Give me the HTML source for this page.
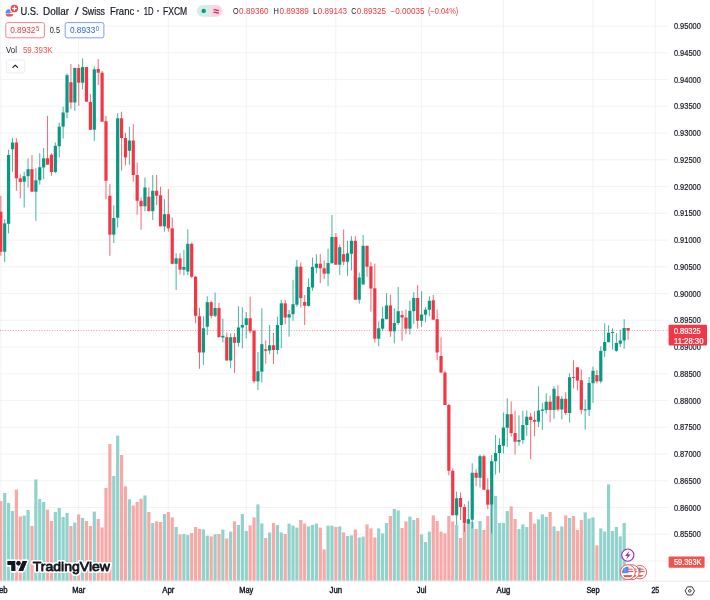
<!DOCTYPE html>
<html lang="en">
<head>
<meta charset="utf-8">
<title>USDCHF chart</title>
<style>
html,body{margin:0;padding:0;background:#ffffff;}
body{width:710px;height:600px;overflow:hidden;position:relative;font-family:"Liberation Sans",sans-serif;}
svg text{font-family:"Liberation Sans",sans-serif;}
</style>
</head>
<body>
<svg width="710" height="600" viewBox="0 0 710 600" style="position:absolute;left:0;top:0;display:block;filter:blur(0.3px)">
<rect width="710" height="600" fill="#ffffff"/>
<g stroke="#efeff0" stroke-width="0.8" fill="none">
<line x1="0" y1="26.10" x2="668.4" y2="26.10"/>
<line x1="0" y1="52.84" x2="668.4" y2="52.84"/>
<line x1="0" y1="79.59" x2="668.4" y2="79.59"/>
<line x1="0" y1="106.34" x2="668.4" y2="106.34"/>
<line x1="0" y1="133.08" x2="668.4" y2="133.08"/>
<line x1="0" y1="159.82" x2="668.4" y2="159.82"/>
<line x1="0" y1="186.57" x2="668.4" y2="186.57"/>
<line x1="0" y1="213.31" x2="668.4" y2="213.31"/>
<line x1="0" y1="240.06" x2="668.4" y2="240.06"/>
<line x1="0" y1="266.81" x2="668.4" y2="266.81"/>
<line x1="0" y1="293.55" x2="668.4" y2="293.55"/>
<line x1="0" y1="320.30" x2="668.4" y2="320.30"/>
<line x1="0" y1="347.04" x2="668.4" y2="347.04"/>
<line x1="0" y1="373.79" x2="668.4" y2="373.79"/>
<line x1="0" y1="400.53" x2="668.4" y2="400.53"/>
<line x1="0" y1="427.28" x2="668.4" y2="427.28"/>
<line x1="0" y1="454.02" x2="668.4" y2="454.02"/>
<line x1="0" y1="480.77" x2="668.4" y2="480.77"/>
<line x1="0" y1="507.51" x2="668.4" y2="507.51"/>
<line x1="0" y1="534.25" x2="668.4" y2="534.25"/>
<line x1="0" y1="561.00" x2="668.4" y2="561.00"/>
<line x1="0.80" y1="0" x2="0.80" y2="580.8"/>
<line x1="78.72" y1="0" x2="78.72" y2="580.8"/>
<line x1="168.33" y1="0" x2="168.33" y2="580.8"/>
<line x1="246.25" y1="0" x2="246.25" y2="580.8"/>
<line x1="335.86" y1="0" x2="335.86" y2="580.8"/>
<line x1="421.57" y1="0" x2="421.57" y2="580.8"/>
<line x1="503.38" y1="0" x2="503.38" y2="580.8"/>
<line x1="592.99" y1="0" x2="592.99" y2="580.8"/>
<line x1="655.33" y1="0" x2="655.33" y2="580.8"/>
</g>
<g shape-rendering="geometricPrecision">
<rect x="-0.80" y="501.0" width="3.2" height="79.8" fill="#f7a9a7"/>
<rect x="3.10" y="493.0" width="3.2" height="87.8" fill="#92d2cc"/>
<rect x="6.99" y="503.0" width="3.2" height="77.8" fill="#92d2cc"/>
<rect x="10.89" y="511.0" width="3.2" height="69.8" fill="#92d2cc"/>
<rect x="14.78" y="489.6" width="3.2" height="91.2" fill="#f7a9a7"/>
<rect x="18.68" y="516.4" width="3.2" height="64.4" fill="#f7a9a7"/>
<rect x="22.58" y="515.6" width="3.2" height="65.2" fill="#92d2cc"/>
<rect x="26.47" y="510.0" width="3.2" height="70.8" fill="#92d2cc"/>
<rect x="30.37" y="526.0" width="3.2" height="54.8" fill="#f7a9a7"/>
<rect x="34.26" y="479.4" width="3.2" height="101.4" fill="#92d2cc"/>
<rect x="38.16" y="499.0" width="3.2" height="81.8" fill="#92d2cc"/>
<rect x="42.06" y="502.0" width="3.2" height="78.8" fill="#92d2cc"/>
<rect x="45.95" y="509.6" width="3.2" height="71.2" fill="#f7a9a7"/>
<rect x="49.85" y="521.0" width="3.2" height="59.8" fill="#f7a9a7"/>
<rect x="53.74" y="512.0" width="3.2" height="68.8" fill="#92d2cc"/>
<rect x="57.64" y="508.0" width="3.2" height="72.8" fill="#92d2cc"/>
<rect x="61.54" y="517.0" width="3.2" height="63.8" fill="#92d2cc"/>
<rect x="65.43" y="513.0" width="3.2" height="67.8" fill="#92d2cc"/>
<rect x="69.33" y="526.0" width="3.2" height="54.8" fill="#f7a9a7"/>
<rect x="73.22" y="522.6" width="3.2" height="58.2" fill="#92d2cc"/>
<rect x="77.12" y="514.4" width="3.2" height="66.4" fill="#f7a9a7"/>
<rect x="81.02" y="518.0" width="3.2" height="62.8" fill="#92d2cc"/>
<rect x="84.91" y="521.0" width="3.2" height="59.8" fill="#f7a9a7"/>
<rect x="88.81" y="526.0" width="3.2" height="54.8" fill="#f7a9a7"/>
<rect x="92.70" y="511.6" width="3.2" height="69.2" fill="#92d2cc"/>
<rect x="96.60" y="519.0" width="3.2" height="61.8" fill="#f7a9a7"/>
<rect x="100.50" y="527.4" width="3.2" height="53.4" fill="#f7a9a7"/>
<rect x="104.39" y="488.0" width="3.2" height="92.8" fill="#f7a9a7"/>
<rect x="108.29" y="444.0" width="3.2" height="136.8" fill="#f7a9a7"/>
<rect x="112.18" y="476.0" width="3.2" height="104.8" fill="#92d2cc"/>
<rect x="116.08" y="435.6" width="3.2" height="145.2" fill="#92d2cc"/>
<rect x="119.98" y="455.0" width="3.2" height="125.8" fill="#f7a9a7"/>
<rect x="123.87" y="486.4" width="3.2" height="94.4" fill="#f7a9a7"/>
<rect x="127.77" y="499.2" width="3.2" height="81.6" fill="#92d2cc"/>
<rect x="131.66" y="505.5" width="3.2" height="75.3" fill="#f7a9a7"/>
<rect x="135.56" y="502.0" width="3.2" height="78.8" fill="#f7a9a7"/>
<rect x="139.46" y="498.7" width="3.2" height="82.1" fill="#f7a9a7"/>
<rect x="143.35" y="495.4" width="3.2" height="85.4" fill="#92d2cc"/>
<rect x="147.25" y="512.0" width="3.2" height="68.8" fill="#f7a9a7"/>
<rect x="151.14" y="523.0" width="3.2" height="57.8" fill="#92d2cc"/>
<rect x="155.04" y="521.4" width="3.2" height="59.4" fill="#f7a9a7"/>
<rect x="158.94" y="522.0" width="3.2" height="58.8" fill="#f7a9a7"/>
<rect x="162.83" y="514.0" width="3.2" height="66.8" fill="#92d2cc"/>
<rect x="166.73" y="512.0" width="3.2" height="68.8" fill="#f7a9a7"/>
<rect x="170.62" y="517.4" width="3.2" height="63.4" fill="#f7a9a7"/>
<rect x="174.52" y="527.0" width="3.2" height="53.8" fill="#92d2cc"/>
<rect x="178.42" y="534.4" width="3.2" height="46.4" fill="#f7a9a7"/>
<rect x="182.31" y="534.0" width="3.2" height="46.8" fill="#92d2cc"/>
<rect x="186.21" y="535.0" width="3.2" height="45.8" fill="#92d2cc"/>
<rect x="190.10" y="533.0" width="3.2" height="47.8" fill="#f7a9a7"/>
<rect x="194.00" y="527.0" width="3.2" height="53.8" fill="#f7a9a7"/>
<rect x="197.90" y="529.0" width="3.2" height="51.8" fill="#f7a9a7"/>
<rect x="201.79" y="529.4" width="3.2" height="51.4" fill="#92d2cc"/>
<rect x="205.69" y="535.6" width="3.2" height="45.2" fill="#92d2cc"/>
<rect x="209.58" y="536.4" width="3.2" height="44.4" fill="#f7a9a7"/>
<rect x="213.48" y="534.4" width="3.2" height="46.4" fill="#92d2cc"/>
<rect x="217.38" y="534.0" width="3.2" height="46.8" fill="#f7a9a7"/>
<rect x="221.27" y="529.6" width="3.2" height="51.2" fill="#92d2cc"/>
<rect x="225.17" y="538.4" width="3.2" height="42.4" fill="#f7a9a7"/>
<rect x="229.06" y="531.6" width="3.2" height="49.2" fill="#92d2cc"/>
<rect x="232.96" y="521.4" width="3.2" height="59.4" fill="#f7a9a7"/>
<rect x="236.86" y="525.0" width="3.2" height="55.8" fill="#92d2cc"/>
<rect x="240.75" y="514.0" width="3.2" height="66.8" fill="#92d2cc"/>
<rect x="244.65" y="531.0" width="3.2" height="49.8" fill="#92d2cc"/>
<rect x="248.54" y="525.4" width="3.2" height="55.4" fill="#f7a9a7"/>
<rect x="252.44" y="517.4" width="3.2" height="63.4" fill="#f7a9a7"/>
<rect x="256.34" y="504.4" width="3.2" height="76.4" fill="#92d2cc"/>
<rect x="260.23" y="523.4" width="3.2" height="57.4" fill="#92d2cc"/>
<rect x="264.13" y="538.0" width="3.2" height="42.8" fill="#f7a9a7"/>
<rect x="268.02" y="532.4" width="3.2" height="48.4" fill="#92d2cc"/>
<rect x="271.92" y="523.0" width="3.2" height="57.8" fill="#f7a9a7"/>
<rect x="275.82" y="525.0" width="3.2" height="55.8" fill="#92d2cc"/>
<rect x="279.71" y="532.4" width="3.2" height="48.4" fill="#92d2cc"/>
<rect x="283.61" y="534.0" width="3.2" height="46.8" fill="#f7a9a7"/>
<rect x="287.50" y="523.6" width="3.2" height="57.2" fill="#92d2cc"/>
<rect x="291.40" y="525.6" width="3.2" height="55.2" fill="#92d2cc"/>
<rect x="295.30" y="527.6" width="3.2" height="53.2" fill="#92d2cc"/>
<rect x="299.19" y="520.0" width="3.2" height="60.8" fill="#f7a9a7"/>
<rect x="303.09" y="523.6" width="3.2" height="57.2" fill="#f7a9a7"/>
<rect x="306.98" y="526.4" width="3.2" height="54.4" fill="#92d2cc"/>
<rect x="310.88" y="525.0" width="3.2" height="55.8" fill="#92d2cc"/>
<rect x="314.78" y="523.6" width="3.2" height="57.2" fill="#92d2cc"/>
<rect x="318.67" y="527.6" width="3.2" height="53.2" fill="#f7a9a7"/>
<rect x="322.57" y="549.4" width="3.2" height="31.4" fill="#f7a9a7"/>
<rect x="326.46" y="525.6" width="3.2" height="55.2" fill="#92d2cc"/>
<rect x="330.36" y="525.6" width="3.2" height="55.2" fill="#92d2cc"/>
<rect x="334.26" y="527.0" width="3.2" height="53.8" fill="#f7a9a7"/>
<rect x="338.15" y="526.4" width="3.2" height="54.4" fill="#92d2cc"/>
<rect x="342.05" y="532.4" width="3.2" height="48.4" fill="#f7a9a7"/>
<rect x="345.94" y="536.0" width="3.2" height="44.8" fill="#92d2cc"/>
<rect x="349.84" y="535.4" width="3.2" height="45.4" fill="#92d2cc"/>
<rect x="353.74" y="529.6" width="3.2" height="51.2" fill="#f7a9a7"/>
<rect x="357.63" y="537.4" width="3.2" height="43.4" fill="#92d2cc"/>
<rect x="361.53" y="536.6" width="3.2" height="44.2" fill="#92d2cc"/>
<rect x="365.42" y="524.4" width="3.2" height="56.4" fill="#f7a9a7"/>
<rect x="369.32" y="528.4" width="3.2" height="52.4" fill="#f7a9a7"/>
<rect x="373.22" y="537.4" width="3.2" height="43.4" fill="#f7a9a7"/>
<rect x="377.11" y="528.4" width="3.2" height="52.4" fill="#92d2cc"/>
<rect x="381.01" y="533.4" width="3.2" height="47.4" fill="#92d2cc"/>
<rect x="384.90" y="523.0" width="3.2" height="57.8" fill="#92d2cc"/>
<rect x="388.80" y="516.0" width="3.2" height="64.8" fill="#f7a9a7"/>
<rect x="392.70" y="509.0" width="3.2" height="71.8" fill="#92d2cc"/>
<rect x="396.59" y="510.4" width="3.2" height="70.4" fill="#92d2cc"/>
<rect x="400.49" y="528.0" width="3.2" height="52.8" fill="#f7a9a7"/>
<rect x="404.38" y="521.4" width="3.2" height="59.4" fill="#f7a9a7"/>
<rect x="408.28" y="516.6" width="3.2" height="64.2" fill="#92d2cc"/>
<rect x="412.18" y="520.0" width="3.2" height="60.8" fill="#92d2cc"/>
<rect x="416.07" y="518.0" width="3.2" height="62.8" fill="#f7a9a7"/>
<rect x="419.97" y="534.4" width="3.2" height="46.4" fill="#92d2cc"/>
<rect x="423.86" y="542.0" width="3.2" height="38.8" fill="#92d2cc"/>
<rect x="427.76" y="531.6" width="3.2" height="49.2" fill="#92d2cc"/>
<rect x="431.66" y="515.4" width="3.2" height="65.4" fill="#f7a9a7"/>
<rect x="435.55" y="521.0" width="3.2" height="59.8" fill="#f7a9a7"/>
<rect x="439.45" y="531.6" width="3.2" height="49.2" fill="#f7a9a7"/>
<rect x="443.34" y="533.4" width="3.2" height="47.4" fill="#f7a9a7"/>
<rect x="447.24" y="516.0" width="3.2" height="64.8" fill="#f7a9a7"/>
<rect x="451.14" y="521.4" width="3.2" height="59.4" fill="#f7a9a7"/>
<rect x="455.03" y="525.0" width="3.2" height="55.8" fill="#92d2cc"/>
<rect x="458.93" y="538.0" width="3.2" height="42.8" fill="#f7a9a7"/>
<rect x="462.82" y="524.0" width="3.2" height="56.8" fill="#f7a9a7"/>
<rect x="466.72" y="524.0" width="3.2" height="56.8" fill="#92d2cc"/>
<rect x="470.62" y="522.0" width="3.2" height="58.8" fill="#92d2cc"/>
<rect x="474.51" y="529.0" width="3.2" height="51.8" fill="#f7a9a7"/>
<rect x="478.41" y="521.0" width="3.2" height="59.8" fill="#92d2cc"/>
<rect x="482.30" y="530.0" width="3.2" height="50.8" fill="#f7a9a7"/>
<rect x="486.20" y="516.0" width="3.2" height="64.8" fill="#f7a9a7"/>
<rect x="490.10" y="505.0" width="3.2" height="75.8" fill="#92d2cc"/>
<rect x="493.99" y="496.0" width="3.2" height="84.8" fill="#92d2cc"/>
<rect x="497.89" y="523.0" width="3.2" height="57.8" fill="#92d2cc"/>
<rect x="501.78" y="523.0" width="3.2" height="57.8" fill="#92d2cc"/>
<rect x="505.68" y="511.0" width="3.2" height="69.8" fill="#92d2cc"/>
<rect x="509.58" y="506.4" width="3.2" height="74.4" fill="#f7a9a7"/>
<rect x="513.47" y="519.0" width="3.2" height="61.8" fill="#f7a9a7"/>
<rect x="517.37" y="529.0" width="3.2" height="51.8" fill="#92d2cc"/>
<rect x="521.26" y="524.4" width="3.2" height="56.4" fill="#92d2cc"/>
<rect x="525.16" y="527.0" width="3.2" height="53.8" fill="#92d2cc"/>
<rect x="529.06" y="512.0" width="3.2" height="68.8" fill="#f7a9a7"/>
<rect x="532.95" y="523.6" width="3.2" height="57.2" fill="#f7a9a7"/>
<rect x="536.85" y="519.4" width="3.2" height="61.4" fill="#92d2cc"/>
<rect x="540.74" y="514.4" width="3.2" height="66.4" fill="#92d2cc"/>
<rect x="544.64" y="517.0" width="3.2" height="63.8" fill="#92d2cc"/>
<rect x="548.54" y="512.0" width="3.2" height="68.8" fill="#f7a9a7"/>
<rect x="552.43" y="526.4" width="3.2" height="54.4" fill="#92d2cc"/>
<rect x="556.33" y="531.0" width="3.2" height="49.8" fill="#f7a9a7"/>
<rect x="560.22" y="526.4" width="3.2" height="54.4" fill="#92d2cc"/>
<rect x="564.12" y="515.4" width="3.2" height="65.4" fill="#f7a9a7"/>
<rect x="568.02" y="518.0" width="3.2" height="62.8" fill="#92d2cc"/>
<rect x="571.91" y="516.0" width="3.2" height="64.8" fill="#f7a9a7"/>
<rect x="575.81" y="530.0" width="3.2" height="50.8" fill="#f7a9a7"/>
<rect x="579.70" y="520.0" width="3.2" height="60.8" fill="#f7a9a7"/>
<rect x="583.60" y="512.4" width="3.2" height="68.4" fill="#92d2cc"/>
<rect x="587.50" y="518.6" width="3.2" height="62.2" fill="#92d2cc"/>
<rect x="591.39" y="517.4" width="3.2" height="63.4" fill="#92d2cc"/>
<rect x="595.29" y="545.4" width="3.2" height="35.4" fill="#f7a9a7"/>
<rect x="599.18" y="528.4" width="3.2" height="52.4" fill="#92d2cc"/>
<rect x="603.08" y="531.6" width="3.2" height="49.2" fill="#92d2cc"/>
<rect x="606.98" y="484.4" width="3.2" height="96.4" fill="#92d2cc"/>
<rect x="610.87" y="531.0" width="3.2" height="49.8" fill="#92d2cc"/>
<rect x="614.77" y="527.0" width="3.2" height="53.8" fill="#92d2cc"/>
<rect x="618.66" y="536.4" width="3.2" height="44.4" fill="#92d2cc"/>
<rect x="622.56" y="523.0" width="3.2" height="57.8" fill="#92d2cc"/>
</g>
<line x1="0" y1="330.4" x2="668.8" y2="330.4" stroke="#f23645" stroke-width="0.7" stroke-dasharray="0.9 1.7" opacity="0.9"/>
<g>
<line x1="0.80" y1="195.8" x2="0.80" y2="255.8" stroke="#f23645" stroke-width="0.75"/>
<rect x="-0.80" y="211.7" width="3.2" height="40.0" fill="#f23645"/>
<line x1="4.70" y1="219.2" x2="4.70" y2="262.0" stroke="#089981" stroke-width="0.75"/>
<rect x="3.10" y="223.3" width="3.2" height="28.4" fill="#089981"/>
<line x1="8.59" y1="149.7" x2="8.59" y2="233.3" stroke="#089981" stroke-width="0.75"/>
<rect x="6.99" y="155.0" width="3.2" height="68.8" fill="#089981"/>
<line x1="12.49" y1="138.0" x2="12.49" y2="171.7" stroke="#089981" stroke-width="0.75"/>
<rect x="10.89" y="142.5" width="3.2" height="6.7" fill="#089981"/>
<line x1="16.38" y1="138.3" x2="16.38" y2="190.8" stroke="#f23645" stroke-width="0.75"/>
<rect x="14.78" y="142.5" width="3.2" height="35.8" fill="#f23645"/>
<line x1="20.28" y1="174.2" x2="20.28" y2="198.3" stroke="#f23645" stroke-width="0.75"/>
<rect x="18.68" y="178.3" width="3.2" height="3.7" fill="#f23645"/>
<line x1="24.18" y1="171.7" x2="24.18" y2="207.5" stroke="#089981" stroke-width="0.75"/>
<rect x="22.58" y="176.2" width="3.2" height="5.5" fill="#089981"/>
<line x1="28.07" y1="158.3" x2="28.07" y2="187.5" stroke="#089981" stroke-width="0.75"/>
<rect x="26.47" y="169.2" width="3.2" height="7.0" fill="#089981"/>
<line x1="31.97" y1="155.0" x2="31.97" y2="191.7" stroke="#f23645" stroke-width="0.75"/>
<rect x="30.37" y="169.2" width="3.2" height="22.5" fill="#f23645"/>
<line x1="35.86" y1="168.3" x2="35.86" y2="220.8" stroke="#089981" stroke-width="0.75"/>
<rect x="34.26" y="180.3" width="3.2" height="11.4" fill="#089981"/>
<line x1="39.76" y1="153.3" x2="39.76" y2="184.7" stroke="#089981" stroke-width="0.75"/>
<rect x="38.16" y="167.2" width="3.2" height="13.1" fill="#089981"/>
<line x1="43.66" y1="148.0" x2="43.66" y2="179.2" stroke="#089981" stroke-width="0.75"/>
<rect x="42.06" y="158.3" width="3.2" height="9.2" fill="#089981"/>
<line x1="47.55" y1="115.8" x2="47.55" y2="164.7" stroke="#f23645" stroke-width="0.75"/>
<rect x="45.95" y="158.3" width="3.2" height="6.4" fill="#f23645"/>
<line x1="51.45" y1="153.3" x2="51.45" y2="175.8" stroke="#f23645" stroke-width="0.75"/>
<rect x="49.85" y="154.7" width="3.2" height="17.3" fill="#f23645"/>
<line x1="55.34" y1="142.5" x2="55.34" y2="173.3" stroke="#089981" stroke-width="0.75"/>
<rect x="53.74" y="145.8" width="3.2" height="26.2" fill="#089981"/>
<line x1="59.24" y1="122.5" x2="59.24" y2="157.5" stroke="#089981" stroke-width="0.75"/>
<rect x="57.64" y="126.7" width="3.2" height="19.5" fill="#089981"/>
<line x1="63.14" y1="106.7" x2="63.14" y2="138.5" stroke="#089981" stroke-width="0.75"/>
<rect x="61.54" y="112.5" width="3.2" height="14.2" fill="#089981"/>
<line x1="67.03" y1="73.4" x2="67.03" y2="118.3" stroke="#089981" stroke-width="0.75"/>
<rect x="65.43" y="75.2" width="3.2" height="37.3" fill="#089981"/>
<line x1="70.93" y1="64.1" x2="70.93" y2="109.2" stroke="#f23645" stroke-width="0.75"/>
<rect x="69.33" y="82.3" width="3.2" height="20.2" fill="#f23645"/>
<line x1="74.82" y1="67.5" x2="74.82" y2="110.8" stroke="#089981" stroke-width="0.75"/>
<rect x="73.22" y="68.0" width="3.2" height="34.5" fill="#089981"/>
<line x1="78.72" y1="64.3" x2="78.72" y2="105.8" stroke="#f23645" stroke-width="0.75"/>
<rect x="77.12" y="68.0" width="3.2" height="14.7" fill="#f23645"/>
<line x1="82.62" y1="58.3" x2="82.62" y2="89.3" stroke="#089981" stroke-width="0.75"/>
<rect x="81.02" y="67.0" width="3.2" height="15.7" fill="#089981"/>
<line x1="86.51" y1="67.0" x2="86.51" y2="101.7" stroke="#f23645" stroke-width="0.75"/>
<rect x="84.91" y="67.1" width="3.2" height="34.6" fill="#f23645"/>
<line x1="90.41" y1="94.1" x2="90.41" y2="129.8" stroke="#f23645" stroke-width="0.75"/>
<rect x="88.81" y="102.0" width="3.2" height="27.8" fill="#f23645"/>
<line x1="94.30" y1="66.3" x2="94.30" y2="140.8" stroke="#089981" stroke-width="0.75"/>
<rect x="92.70" y="69.3" width="3.2" height="60.4" fill="#089981"/>
<line x1="98.20" y1="59.1" x2="98.20" y2="85.0" stroke="#f23645" stroke-width="0.75"/>
<rect x="96.60" y="69.0" width="3.2" height="3.7" fill="#f23645"/>
<line x1="102.10" y1="71.0" x2="102.10" y2="121.7" stroke="#f23645" stroke-width="0.75"/>
<rect x="100.50" y="72.7" width="3.2" height="49.0" fill="#f23645"/>
<line x1="105.99" y1="115.8" x2="105.99" y2="199.2" stroke="#f23645" stroke-width="0.75"/>
<rect x="104.39" y="121.2" width="3.2" height="59.6" fill="#f23645"/>
<line x1="109.89" y1="184.2" x2="109.89" y2="255.8" stroke="#f23645" stroke-width="0.75"/>
<rect x="108.29" y="195.8" width="3.2" height="38.9" fill="#f23645"/>
<line x1="113.78" y1="205.5" x2="113.78" y2="243.0" stroke="#089981" stroke-width="0.75"/>
<rect x="112.18" y="218.0" width="3.2" height="16.7" fill="#089981"/>
<line x1="117.68" y1="113.2" x2="117.68" y2="227.5" stroke="#089981" stroke-width="0.75"/>
<rect x="116.08" y="118.3" width="3.2" height="99.4" fill="#089981"/>
<line x1="121.58" y1="111.7" x2="121.58" y2="170.8" stroke="#f23645" stroke-width="0.75"/>
<rect x="119.98" y="118.3" width="3.2" height="19.7" fill="#f23645"/>
<line x1="125.47" y1="132.8" x2="125.47" y2="165.3" stroke="#f23645" stroke-width="0.75"/>
<rect x="123.87" y="138.0" width="3.2" height="19.5" fill="#f23645"/>
<line x1="129.37" y1="126.7" x2="129.37" y2="164.7" stroke="#089981" stroke-width="0.75"/>
<rect x="127.77" y="140.5" width="3.2" height="10.3" fill="#089981"/>
<line x1="133.26" y1="124.2" x2="133.26" y2="181.7" stroke="#f23645" stroke-width="0.75"/>
<rect x="131.66" y="140.5" width="3.2" height="34.5" fill="#f23645"/>
<line x1="137.16" y1="162.5" x2="137.16" y2="214.7" stroke="#f23645" stroke-width="0.75"/>
<rect x="135.56" y="175.0" width="3.2" height="25.8" fill="#f23645"/>
<line x1="141.06" y1="197.5" x2="141.06" y2="229.7" stroke="#f23645" stroke-width="0.75"/>
<rect x="139.46" y="200.8" width="3.2" height="5.5" fill="#f23645"/>
<line x1="144.95" y1="177.5" x2="144.95" y2="211.3" stroke="#089981" stroke-width="0.75"/>
<rect x="143.35" y="187.5" width="3.2" height="18.8" fill="#089981"/>
<line x1="148.85" y1="187.5" x2="148.85" y2="211.2" stroke="#f23645" stroke-width="0.75"/>
<rect x="147.25" y="196.7" width="3.2" height="14.5" fill="#f23645"/>
<line x1="152.74" y1="175.0" x2="152.74" y2="220.0" stroke="#089981" stroke-width="0.75"/>
<rect x="151.14" y="190.8" width="3.2" height="20.4" fill="#089981"/>
<line x1="156.64" y1="175.0" x2="156.64" y2="205.0" stroke="#f23645" stroke-width="0.75"/>
<rect x="155.04" y="190.8" width="3.2" height="5.0" fill="#f23645"/>
<line x1="160.54" y1="186.7" x2="160.54" y2="226.3" stroke="#f23645" stroke-width="0.75"/>
<rect x="158.94" y="195.3" width="3.2" height="31.0" fill="#f23645"/>
<line x1="164.43" y1="199.2" x2="164.43" y2="231.7" stroke="#089981" stroke-width="0.75"/>
<rect x="162.83" y="214.2" width="3.2" height="12.1" fill="#089981"/>
<line x1="168.33" y1="189.2" x2="168.33" y2="231.7" stroke="#f23645" stroke-width="0.75"/>
<rect x="166.73" y="214.2" width="3.2" height="14.1" fill="#f23645"/>
<line x1="172.22" y1="217.5" x2="172.22" y2="263.8" stroke="#f23645" stroke-width="0.75"/>
<rect x="170.62" y="228.3" width="3.2" height="35.5" fill="#f23645"/>
<line x1="176.12" y1="253.3" x2="176.12" y2="290.0" stroke="#089981" stroke-width="0.75"/>
<rect x="174.52" y="258.3" width="3.2" height="5.5" fill="#089981"/>
<line x1="180.02" y1="253.3" x2="180.02" y2="274.5" stroke="#f23645" stroke-width="0.75"/>
<rect x="178.42" y="258.3" width="3.2" height="11.4" fill="#f23645"/>
<line x1="183.91" y1="250.0" x2="183.91" y2="275.5" stroke="#089981" stroke-width="0.75"/>
<rect x="182.31" y="267.0" width="3.2" height="2.7" fill="#089981"/>
<line x1="187.81" y1="229.5" x2="187.81" y2="275.0" stroke="#089981" stroke-width="0.75"/>
<rect x="186.21" y="243.8" width="3.2" height="27.7" fill="#089981"/>
<line x1="191.70" y1="242.5" x2="191.70" y2="278.0" stroke="#f23645" stroke-width="0.75"/>
<rect x="190.10" y="243.8" width="3.2" height="32.9" fill="#f23645"/>
<line x1="195.60" y1="275.8" x2="195.60" y2="323.3" stroke="#f23645" stroke-width="0.75"/>
<rect x="194.00" y="276.7" width="3.2" height="39.1" fill="#f23645"/>
<line x1="199.50" y1="307.8" x2="199.50" y2="368.8" stroke="#f23645" stroke-width="0.75"/>
<rect x="197.90" y="316.3" width="3.2" height="36.2" fill="#f23645"/>
<line x1="203.39" y1="316.3" x2="203.39" y2="364.7" stroke="#089981" stroke-width="0.75"/>
<rect x="201.79" y="328.3" width="3.2" height="24.2" fill="#089981"/>
<line x1="207.29" y1="296.3" x2="207.29" y2="335.0" stroke="#089981" stroke-width="0.75"/>
<rect x="205.69" y="302.2" width="3.2" height="24.5" fill="#089981"/>
<line x1="211.18" y1="300.8" x2="211.18" y2="318.3" stroke="#f23645" stroke-width="0.75"/>
<rect x="209.58" y="302.2" width="3.2" height="13.6" fill="#f23645"/>
<line x1="215.08" y1="292.5" x2="215.08" y2="317.0" stroke="#089981" stroke-width="0.75"/>
<rect x="213.48" y="308.0" width="3.2" height="7.8" fill="#089981"/>
<line x1="218.98" y1="303.0" x2="218.98" y2="337.2" stroke="#f23645" stroke-width="0.75"/>
<rect x="217.38" y="308.0" width="3.2" height="29.2" fill="#f23645"/>
<line x1="222.87" y1="318.7" x2="222.87" y2="342.5" stroke="#089981" stroke-width="0.75"/>
<rect x="221.27" y="335.8" width="3.2" height="1.7" fill="#089981"/>
<line x1="226.77" y1="332.5" x2="226.77" y2="360.5" stroke="#f23645" stroke-width="0.75"/>
<rect x="225.17" y="337.2" width="3.2" height="23.3" fill="#f23645"/>
<line x1="230.66" y1="333.3" x2="230.66" y2="368.3" stroke="#089981" stroke-width="0.75"/>
<rect x="229.06" y="337.2" width="3.2" height="23.3" fill="#089981"/>
<line x1="234.56" y1="333.3" x2="234.56" y2="373.0" stroke="#f23645" stroke-width="0.75"/>
<rect x="232.96" y="337.2" width="3.2" height="5.6" fill="#f23645"/>
<line x1="238.46" y1="306.2" x2="238.46" y2="346.7" stroke="#089981" stroke-width="0.75"/>
<rect x="236.86" y="327.5" width="3.2" height="15.3" fill="#089981"/>
<line x1="242.35" y1="307.2" x2="242.35" y2="348.3" stroke="#089981" stroke-width="0.75"/>
<rect x="240.75" y="325.0" width="3.2" height="2.5" fill="#089981"/>
<line x1="246.25" y1="312.0" x2="246.25" y2="338.3" stroke="#089981" stroke-width="0.75"/>
<rect x="244.65" y="318.3" width="3.2" height="6.7" fill="#089981"/>
<line x1="250.14" y1="296.7" x2="250.14" y2="333.3" stroke="#f23645" stroke-width="0.75"/>
<rect x="248.54" y="318.3" width="3.2" height="13.0" fill="#f23645"/>
<line x1="254.04" y1="330.0" x2="254.04" y2="383.3" stroke="#f23645" stroke-width="0.75"/>
<rect x="252.44" y="330.8" width="3.2" height="50.5" fill="#f23645"/>
<line x1="257.94" y1="352.0" x2="257.94" y2="390.0" stroke="#089981" stroke-width="0.75"/>
<rect x="256.34" y="371.3" width="3.2" height="10.0" fill="#089981"/>
<line x1="261.83" y1="308.3" x2="261.83" y2="382.5" stroke="#089981" stroke-width="0.75"/>
<rect x="260.23" y="344.2" width="3.2" height="27.5" fill="#089981"/>
<line x1="265.73" y1="340.4" x2="265.73" y2="363.7" stroke="#f23645" stroke-width="0.75"/>
<rect x="264.13" y="349.3" width="3.2" height="1.5" fill="#f23645"/>
<line x1="269.62" y1="325.0" x2="269.62" y2="354.2" stroke="#089981" stroke-width="0.75"/>
<rect x="268.02" y="345.3" width="3.2" height="5.2" fill="#089981"/>
<line x1="273.52" y1="332.9" x2="273.52" y2="364.2" stroke="#f23645" stroke-width="0.75"/>
<rect x="271.92" y="345.3" width="3.2" height="4.7" fill="#f23645"/>
<line x1="277.42" y1="316.7" x2="277.42" y2="354.2" stroke="#089981" stroke-width="0.75"/>
<rect x="275.82" y="325.0" width="3.2" height="25.0" fill="#089981"/>
<line x1="281.31" y1="300.0" x2="281.31" y2="348.2" stroke="#089981" stroke-width="0.75"/>
<rect x="279.71" y="303.3" width="3.2" height="21.7" fill="#089981"/>
<line x1="285.21" y1="300.0" x2="285.21" y2="324.2" stroke="#f23645" stroke-width="0.75"/>
<rect x="283.61" y="303.3" width="3.2" height="14.2" fill="#f23645"/>
<line x1="289.10" y1="310.0" x2="289.10" y2="336.7" stroke="#089981" stroke-width="0.75"/>
<rect x="287.50" y="314.2" width="3.2" height="3.3" fill="#089981"/>
<line x1="293.00" y1="280.0" x2="293.00" y2="320.8" stroke="#089981" stroke-width="0.75"/>
<rect x="291.40" y="304.2" width="3.2" height="10.0" fill="#089981"/>
<line x1="296.90" y1="260.0" x2="296.90" y2="306.7" stroke="#089981" stroke-width="0.75"/>
<rect x="295.30" y="266.7" width="3.2" height="38.0" fill="#089981"/>
<line x1="300.79" y1="262.5" x2="300.79" y2="307.5" stroke="#f23645" stroke-width="0.75"/>
<rect x="299.19" y="266.7" width="3.2" height="31.5" fill="#f23645"/>
<line x1="304.69" y1="295.0" x2="304.69" y2="325.0" stroke="#f23645" stroke-width="0.75"/>
<rect x="303.09" y="302.0" width="3.2" height="3.8" fill="#f23645"/>
<line x1="308.58" y1="278.3" x2="308.58" y2="306.7" stroke="#089981" stroke-width="0.75"/>
<rect x="306.98" y="287.0" width="3.2" height="18.8" fill="#089981"/>
<line x1="312.48" y1="257.5" x2="312.48" y2="290.8" stroke="#089981" stroke-width="0.75"/>
<rect x="310.88" y="267.0" width="3.2" height="20.5" fill="#089981"/>
<line x1="316.38" y1="254.2" x2="316.38" y2="273.3" stroke="#089981" stroke-width="0.75"/>
<rect x="314.78" y="263.7" width="3.2" height="4.1" fill="#089981"/>
<line x1="320.27" y1="254.2" x2="320.27" y2="283.3" stroke="#f23645" stroke-width="0.75"/>
<rect x="318.67" y="263.7" width="3.2" height="4.6" fill="#f23645"/>
<line x1="324.17" y1="260.3" x2="324.17" y2="279.2" stroke="#f23645" stroke-width="0.75"/>
<rect x="322.57" y="268.3" width="3.2" height="5.4" fill="#f23645"/>
<line x1="328.06" y1="248.7" x2="328.06" y2="286.0" stroke="#089981" stroke-width="0.75"/>
<rect x="326.46" y="263.0" width="3.2" height="10.7" fill="#089981"/>
<line x1="331.96" y1="215.0" x2="331.96" y2="263.3" stroke="#089981" stroke-width="0.75"/>
<rect x="330.36" y="237.0" width="3.2" height="26.3" fill="#089981"/>
<line x1="335.86" y1="233.0" x2="335.86" y2="264.7" stroke="#f23645" stroke-width="0.75"/>
<rect x="334.26" y="237.0" width="3.2" height="27.7" fill="#f23645"/>
<line x1="339.75" y1="244.5" x2="339.75" y2="275.0" stroke="#089981" stroke-width="0.75"/>
<rect x="338.15" y="247.2" width="3.2" height="17.5" fill="#089981"/>
<line x1="343.65" y1="229.5" x2="343.65" y2="265.3" stroke="#f23645" stroke-width="0.75"/>
<rect x="342.05" y="254.2" width="3.2" height="7.5" fill="#f23645"/>
<line x1="347.54" y1="240.8" x2="347.54" y2="275.8" stroke="#089981" stroke-width="0.75"/>
<rect x="345.94" y="253.3" width="3.2" height="8.4" fill="#089981"/>
<line x1="351.44" y1="236.2" x2="351.44" y2="270.5" stroke="#089981" stroke-width="0.75"/>
<rect x="349.84" y="240.8" width="3.2" height="13.0" fill="#089981"/>
<line x1="355.34" y1="236.2" x2="355.34" y2="299.7" stroke="#f23645" stroke-width="0.75"/>
<rect x="353.74" y="240.8" width="3.2" height="58.9" fill="#f23645"/>
<line x1="359.23" y1="272.5" x2="359.23" y2="303.7" stroke="#089981" stroke-width="0.75"/>
<rect x="357.63" y="277.5" width="3.2" height="22.2" fill="#089981"/>
<line x1="363.13" y1="235.0" x2="363.13" y2="284.5" stroke="#089981" stroke-width="0.75"/>
<rect x="361.53" y="245.8" width="3.2" height="38.7" fill="#089981"/>
<line x1="367.02" y1="245.8" x2="367.02" y2="276.7" stroke="#f23645" stroke-width="0.75"/>
<rect x="365.42" y="245.8" width="3.2" height="20.9" fill="#f23645"/>
<line x1="370.92" y1="262.0" x2="370.92" y2="311.7" stroke="#f23645" stroke-width="0.75"/>
<rect x="369.32" y="266.3" width="3.2" height="22.2" fill="#f23645"/>
<line x1="374.82" y1="263.7" x2="374.82" y2="342.5" stroke="#f23645" stroke-width="0.75"/>
<rect x="373.22" y="288.3" width="3.2" height="50.4" fill="#f23645"/>
<line x1="378.71" y1="321.3" x2="378.71" y2="346.3" stroke="#089981" stroke-width="0.75"/>
<rect x="377.11" y="328.3" width="3.2" height="10.4" fill="#089981"/>
<line x1="382.61" y1="306.7" x2="382.61" y2="330.8" stroke="#089981" stroke-width="0.75"/>
<rect x="381.01" y="318.7" width="3.2" height="10.0" fill="#089981"/>
<line x1="386.50" y1="293.3" x2="386.50" y2="319.2" stroke="#089981" stroke-width="0.75"/>
<rect x="384.90" y="305.5" width="3.2" height="13.7" fill="#089981"/>
<line x1="390.40" y1="294.7" x2="390.40" y2="336.7" stroke="#f23645" stroke-width="0.75"/>
<rect x="388.80" y="305.5" width="3.2" height="25.8" fill="#f23645"/>
<line x1="394.30" y1="308.3" x2="394.30" y2="343.3" stroke="#089981" stroke-width="0.75"/>
<rect x="392.70" y="323.0" width="3.2" height="8.3" fill="#089981"/>
<line x1="398.19" y1="287.0" x2="398.19" y2="325.0" stroke="#089981" stroke-width="0.75"/>
<rect x="396.59" y="311.2" width="3.2" height="11.8" fill="#089981"/>
<line x1="402.09" y1="310.8" x2="402.09" y2="340.8" stroke="#f23645" stroke-width="0.75"/>
<rect x="400.49" y="315.0" width="3.2" height="2.5" fill="#f23645"/>
<line x1="405.98" y1="309.5" x2="405.98" y2="334.2" stroke="#f23645" stroke-width="0.75"/>
<rect x="404.38" y="317.5" width="3.2" height="11.2" fill="#f23645"/>
<line x1="409.88" y1="300.8" x2="409.88" y2="334.5" stroke="#089981" stroke-width="0.75"/>
<rect x="408.28" y="310.8" width="3.2" height="17.9" fill="#089981"/>
<line x1="413.78" y1="292.2" x2="413.78" y2="323.8" stroke="#089981" stroke-width="0.75"/>
<rect x="412.18" y="298.0" width="3.2" height="13.2" fill="#089981"/>
<line x1="417.67" y1="285.0" x2="417.67" y2="328.7" stroke="#f23645" stroke-width="0.75"/>
<rect x="416.07" y="298.0" width="3.2" height="22.8" fill="#f23645"/>
<line x1="421.57" y1="291.2" x2="421.57" y2="327.0" stroke="#089981" stroke-width="0.75"/>
<rect x="419.97" y="314.5" width="3.2" height="6.3" fill="#089981"/>
<line x1="425.46" y1="307.2" x2="425.46" y2="322.2" stroke="#089981" stroke-width="0.75"/>
<rect x="423.86" y="309.7" width="3.2" height="5.0" fill="#089981"/>
<line x1="429.36" y1="296.3" x2="429.36" y2="316.2" stroke="#089981" stroke-width="0.75"/>
<rect x="427.76" y="300.8" width="3.2" height="8.9" fill="#089981"/>
<line x1="433.26" y1="295.0" x2="433.26" y2="319.7" stroke="#f23645" stroke-width="0.75"/>
<rect x="431.66" y="300.3" width="3.2" height="19.4" fill="#f23645"/>
<line x1="437.15" y1="309.5" x2="437.15" y2="360.0" stroke="#f23645" stroke-width="0.75"/>
<rect x="435.55" y="319.2" width="3.2" height="33.3" fill="#f23645"/>
<line x1="441.05" y1="337.5" x2="441.05" y2="373.0" stroke="#f23645" stroke-width="0.75"/>
<rect x="439.45" y="356.0" width="3.2" height="16.5" fill="#f23645"/>
<line x1="444.94" y1="370.8" x2="444.94" y2="405.0" stroke="#f23645" stroke-width="0.75"/>
<rect x="443.34" y="372.5" width="3.2" height="32.5" fill="#f23645"/>
<line x1="448.84" y1="404.0" x2="448.84" y2="475.3" stroke="#f23645" stroke-width="0.75"/>
<rect x="447.24" y="405.0" width="3.2" height="65.8" fill="#f23645"/>
<line x1="452.74" y1="468.3" x2="452.74" y2="515.3" stroke="#f23645" stroke-width="0.75"/>
<rect x="451.14" y="470.8" width="3.2" height="44.5" fill="#f23645"/>
<line x1="456.63" y1="491.7" x2="456.63" y2="525.0" stroke="#089981" stroke-width="0.75"/>
<rect x="455.03" y="498.3" width="3.2" height="17.0" fill="#089981"/>
<line x1="460.53" y1="492.5" x2="460.53" y2="520.0" stroke="#f23645" stroke-width="0.75"/>
<rect x="458.93" y="498.0" width="3.2" height="9.0" fill="#f23645"/>
<line x1="464.42" y1="504.2" x2="464.42" y2="531.7" stroke="#f23645" stroke-width="0.75"/>
<rect x="462.82" y="507.0" width="3.2" height="16.3" fill="#f23645"/>
<line x1="468.32" y1="500.8" x2="468.32" y2="524.0" stroke="#089981" stroke-width="0.75"/>
<rect x="466.72" y="519.2" width="3.2" height="4.6" fill="#089981"/>
<line x1="472.22" y1="463.3" x2="472.22" y2="528.3" stroke="#089981" stroke-width="0.75"/>
<rect x="470.62" y="472.8" width="3.2" height="46.9" fill="#089981"/>
<line x1="476.11" y1="469.2" x2="476.11" y2="486.2" stroke="#f23645" stroke-width="0.75"/>
<rect x="474.51" y="472.8" width="3.2" height="5.0" fill="#f23645"/>
<line x1="480.01" y1="454.7" x2="480.01" y2="487.5" stroke="#089981" stroke-width="0.75"/>
<rect x="478.41" y="456.2" width="3.2" height="21.6" fill="#089981"/>
<line x1="483.90" y1="454.7" x2="483.90" y2="489.7" stroke="#f23645" stroke-width="0.75"/>
<rect x="482.30" y="456.2" width="3.2" height="33.5" fill="#f23645"/>
<line x1="487.80" y1="478.3" x2="487.80" y2="509.2" stroke="#f23645" stroke-width="0.75"/>
<rect x="486.20" y="489.7" width="3.2" height="15.0" fill="#f23645"/>
<line x1="491.70" y1="455.0" x2="491.70" y2="533.3" stroke="#089981" stroke-width="0.75"/>
<rect x="490.10" y="461.2" width="3.2" height="43.5" fill="#089981"/>
<line x1="495.59" y1="435.0" x2="495.59" y2="474.5" stroke="#089981" stroke-width="0.75"/>
<rect x="493.99" y="453.0" width="3.2" height="8.2" fill="#089981"/>
<line x1="499.49" y1="438.3" x2="499.49" y2="472.8" stroke="#089981" stroke-width="0.75"/>
<rect x="497.89" y="445.0" width="3.2" height="8.0" fill="#089981"/>
<line x1="503.38" y1="412.5" x2="503.38" y2="453.5" stroke="#089981" stroke-width="0.75"/>
<rect x="501.78" y="427.5" width="3.2" height="18.3" fill="#089981"/>
<line x1="507.28" y1="398.3" x2="507.28" y2="446.7" stroke="#089981" stroke-width="0.75"/>
<rect x="505.68" y="414.2" width="3.2" height="13.6" fill="#089981"/>
<line x1="511.18" y1="401.3" x2="511.18" y2="436.7" stroke="#f23645" stroke-width="0.75"/>
<rect x="509.58" y="414.2" width="3.2" height="18.8" fill="#f23645"/>
<line x1="515.07" y1="410.5" x2="515.07" y2="454.5" stroke="#f23645" stroke-width="0.75"/>
<rect x="513.47" y="433.0" width="3.2" height="8.7" fill="#f23645"/>
<line x1="518.97" y1="415.3" x2="518.97" y2="445.8" stroke="#089981" stroke-width="0.75"/>
<rect x="517.37" y="440.0" width="3.2" height="1.7" fill="#089981"/>
<line x1="522.86" y1="410.8" x2="522.86" y2="443.8" stroke="#089981" stroke-width="0.75"/>
<rect x="521.26" y="425.0" width="3.2" height="15.0" fill="#089981"/>
<line x1="526.76" y1="410.5" x2="526.76" y2="435.8" stroke="#089981" stroke-width="0.75"/>
<rect x="525.16" y="416.7" width="3.2" height="8.3" fill="#089981"/>
<line x1="530.66" y1="413.0" x2="530.66" y2="459.2" stroke="#f23645" stroke-width="0.75"/>
<rect x="529.06" y="416.7" width="3.2" height="3.3" fill="#f23645"/>
<line x1="534.55" y1="411.3" x2="534.55" y2="436.3" stroke="#f23645" stroke-width="0.75"/>
<rect x="532.95" y="420.0" width="3.2" height="1.7" fill="#f23645"/>
<line x1="538.45" y1="386.2" x2="538.45" y2="427.0" stroke="#089981" stroke-width="0.75"/>
<rect x="536.85" y="410.5" width="3.2" height="11.2" fill="#089981"/>
<line x1="542.34" y1="402.8" x2="542.34" y2="430.0" stroke="#089981" stroke-width="0.75"/>
<rect x="540.74" y="409.5" width="3.2" height="1.3" fill="#089981"/>
<line x1="546.24" y1="393.3" x2="546.24" y2="413.7" stroke="#089981" stroke-width="0.75"/>
<rect x="544.64" y="401.7" width="3.2" height="8.3" fill="#089981"/>
<line x1="550.14" y1="395.8" x2="550.14" y2="422.2" stroke="#f23645" stroke-width="0.75"/>
<rect x="548.54" y="401.7" width="3.2" height="8.3" fill="#f23645"/>
<line x1="554.03" y1="386.3" x2="554.03" y2="418.8" stroke="#089981" stroke-width="0.75"/>
<rect x="552.43" y="388.8" width="3.2" height="21.2" fill="#089981"/>
<line x1="557.93" y1="385.5" x2="557.93" y2="411.2" stroke="#f23645" stroke-width="0.75"/>
<rect x="556.33" y="396.2" width="3.2" height="13.3" fill="#f23645"/>
<line x1="561.82" y1="396.2" x2="561.82" y2="419.5" stroke="#089981" stroke-width="0.75"/>
<rect x="560.22" y="398.8" width="3.2" height="10.7" fill="#089981"/>
<line x1="565.72" y1="392.2" x2="565.72" y2="415.0" stroke="#f23645" stroke-width="0.75"/>
<rect x="564.12" y="398.8" width="3.2" height="14.2" fill="#f23645"/>
<line x1="569.62" y1="373.3" x2="569.62" y2="422.5" stroke="#089981" stroke-width="0.75"/>
<rect x="568.02" y="377.3" width="3.2" height="35.7" fill="#089981"/>
<line x1="573.51" y1="360.3" x2="573.51" y2="388.5" stroke="#f23645" stroke-width="0.75"/>
<rect x="571.91" y="376.9" width="3.2" height="1.0" fill="#f23645"/>
<line x1="577.41" y1="367.3" x2="577.41" y2="390.4" stroke="#f23645" stroke-width="0.75"/>
<rect x="575.81" y="367.3" width="3.2" height="13.3" fill="#f23645"/>
<line x1="581.30" y1="369.3" x2="581.30" y2="414.2" stroke="#f23645" stroke-width="0.75"/>
<rect x="579.70" y="380.2" width="3.2" height="29.6" fill="#f23645"/>
<line x1="585.20" y1="399.4" x2="585.20" y2="429.7" stroke="#089981" stroke-width="0.75"/>
<rect x="583.60" y="409.3" width="3.2" height="1.0" fill="#089981"/>
<line x1="589.10" y1="377.1" x2="589.10" y2="416.0" stroke="#089981" stroke-width="0.75"/>
<rect x="587.50" y="383.0" width="3.2" height="26.8" fill="#089981"/>
<line x1="592.99" y1="366.7" x2="592.99" y2="402.9" stroke="#089981" stroke-width="0.75"/>
<rect x="591.39" y="370.8" width="3.2" height="12.4" fill="#089981"/>
<line x1="596.89" y1="370.0" x2="596.89" y2="383.3" stroke="#f23645" stroke-width="0.75"/>
<rect x="595.29" y="375.1" width="3.2" height="6.3" fill="#f23645"/>
<line x1="600.78" y1="346.3" x2="600.78" y2="383.3" stroke="#089981" stroke-width="0.75"/>
<rect x="599.18" y="350.9" width="3.2" height="30.5" fill="#089981"/>
<line x1="604.68" y1="323.3" x2="604.68" y2="357.0" stroke="#089981" stroke-width="0.75"/>
<rect x="603.08" y="342.0" width="3.2" height="8.8" fill="#089981"/>
<line x1="608.58" y1="325.3" x2="608.58" y2="342.2" stroke="#089981" stroke-width="0.75"/>
<rect x="606.98" y="332.8" width="3.2" height="9.4" fill="#089981"/>
<line x1="612.47" y1="328.3" x2="612.47" y2="349.7" stroke="#089981" stroke-width="0.75"/>
<rect x="610.87" y="332.0" width="3.2" height="1.0" fill="#089981"/>
<line x1="616.37" y1="333.0" x2="616.37" y2="351.7" stroke="#089981" stroke-width="0.75"/>
<rect x="614.77" y="343.0" width="3.2" height="7.8" fill="#089981"/>
<line x1="620.26" y1="329.7" x2="620.26" y2="347.0" stroke="#089981" stroke-width="0.75"/>
<rect x="618.66" y="340.5" width="3.2" height="3.2" fill="#089981"/>
<line x1="624.16" y1="319.2" x2="624.16" y2="348.7" stroke="#089981" stroke-width="0.75"/>
<rect x="622.56" y="328.0" width="3.2" height="12.5" fill="#089981"/>
<line x1="628.06" y1="328.0" x2="628.06" y2="339.7" stroke="#f23645" stroke-width="0.75"/>
<rect x="626.46" y="328.0" width="3.2" height="2.5" fill="#f23645"/>
</g>
<line x1="0" y1="581.1" x2="710" y2="581.1" stroke="#e3e5ea" stroke-width="0.8"/>
<text x="673.90" y="29.20" font-size="8.6" font-family="Liberation Sans, sans-serif" fill="#131722" text-anchor="start" font-weight="normal" textLength="27.00" lengthAdjust="spacingAndGlyphs" stroke="#131722" stroke-width="0.2">0.95000</text>
<text x="673.90" y="55.95" font-size="8.6" font-family="Liberation Sans, sans-serif" fill="#131722" text-anchor="start" font-weight="normal" textLength="27.00" lengthAdjust="spacingAndGlyphs" stroke="#131722" stroke-width="0.2">0.94500</text>
<text x="673.90" y="82.69" font-size="8.6" font-family="Liberation Sans, sans-serif" fill="#131722" text-anchor="start" font-weight="normal" textLength="27.00" lengthAdjust="spacingAndGlyphs" stroke="#131722" stroke-width="0.2">0.94000</text>
<text x="673.90" y="109.44" font-size="8.6" font-family="Liberation Sans, sans-serif" fill="#131722" text-anchor="start" font-weight="normal" textLength="27.00" lengthAdjust="spacingAndGlyphs" stroke="#131722" stroke-width="0.2">0.93500</text>
<text x="673.90" y="136.18" font-size="8.6" font-family="Liberation Sans, sans-serif" fill="#131722" text-anchor="start" font-weight="normal" textLength="27.00" lengthAdjust="spacingAndGlyphs" stroke="#131722" stroke-width="0.2">0.93000</text>
<text x="673.90" y="162.92" font-size="8.6" font-family="Liberation Sans, sans-serif" fill="#131722" text-anchor="start" font-weight="normal" textLength="27.00" lengthAdjust="spacingAndGlyphs" stroke="#131722" stroke-width="0.2">0.92500</text>
<text x="673.90" y="189.67" font-size="8.6" font-family="Liberation Sans, sans-serif" fill="#131722" text-anchor="start" font-weight="normal" textLength="27.00" lengthAdjust="spacingAndGlyphs" stroke="#131722" stroke-width="0.2">0.92000</text>
<text x="673.90" y="216.41" font-size="8.6" font-family="Liberation Sans, sans-serif" fill="#131722" text-anchor="start" font-weight="normal" textLength="27.00" lengthAdjust="spacingAndGlyphs" stroke="#131722" stroke-width="0.2">0.91500</text>
<text x="673.90" y="243.16" font-size="8.6" font-family="Liberation Sans, sans-serif" fill="#131722" text-anchor="start" font-weight="normal" textLength="27.00" lengthAdjust="spacingAndGlyphs" stroke="#131722" stroke-width="0.2">0.91000</text>
<text x="673.90" y="269.91" font-size="8.6" font-family="Liberation Sans, sans-serif" fill="#131722" text-anchor="start" font-weight="normal" textLength="27.00" lengthAdjust="spacingAndGlyphs" stroke="#131722" stroke-width="0.2">0.90500</text>
<text x="673.90" y="296.65" font-size="8.6" font-family="Liberation Sans, sans-serif" fill="#131722" text-anchor="start" font-weight="normal" textLength="27.00" lengthAdjust="spacingAndGlyphs" stroke="#131722" stroke-width="0.2">0.90000</text>
<text x="673.90" y="323.40" font-size="8.6" font-family="Liberation Sans, sans-serif" fill="#131722" text-anchor="start" font-weight="normal" textLength="27.00" lengthAdjust="spacingAndGlyphs" stroke="#131722" stroke-width="0.2">0.89500</text>
<text x="673.90" y="350.14" font-size="8.6" font-family="Liberation Sans, sans-serif" fill="#131722" text-anchor="start" font-weight="normal" textLength="27.00" lengthAdjust="spacingAndGlyphs" stroke="#131722" stroke-width="0.2">0.89000</text>
<text x="673.90" y="376.89" font-size="8.6" font-family="Liberation Sans, sans-serif" fill="#131722" text-anchor="start" font-weight="normal" textLength="27.00" lengthAdjust="spacingAndGlyphs" stroke="#131722" stroke-width="0.2">0.88500</text>
<text x="673.90" y="403.63" font-size="8.6" font-family="Liberation Sans, sans-serif" fill="#131722" text-anchor="start" font-weight="normal" textLength="27.00" lengthAdjust="spacingAndGlyphs" stroke="#131722" stroke-width="0.2">0.88000</text>
<text x="673.90" y="430.38" font-size="8.6" font-family="Liberation Sans, sans-serif" fill="#131722" text-anchor="start" font-weight="normal" textLength="27.00" lengthAdjust="spacingAndGlyphs" stroke="#131722" stroke-width="0.2">0.87500</text>
<text x="673.90" y="457.12" font-size="8.6" font-family="Liberation Sans, sans-serif" fill="#131722" text-anchor="start" font-weight="normal" textLength="27.00" lengthAdjust="spacingAndGlyphs" stroke="#131722" stroke-width="0.2">0.87000</text>
<text x="673.90" y="483.87" font-size="8.6" font-family="Liberation Sans, sans-serif" fill="#131722" text-anchor="start" font-weight="normal" textLength="27.00" lengthAdjust="spacingAndGlyphs" stroke="#131722" stroke-width="0.2">0.86500</text>
<text x="673.90" y="510.61" font-size="8.6" font-family="Liberation Sans, sans-serif" fill="#131722" text-anchor="start" font-weight="normal" textLength="27.00" lengthAdjust="spacingAndGlyphs" stroke="#131722" stroke-width="0.2">0.86000</text>
<text x="673.90" y="537.36" font-size="8.6" font-family="Liberation Sans, sans-serif" fill="#131722" text-anchor="start" font-weight="normal" textLength="27.00" lengthAdjust="spacingAndGlyphs" stroke="#131722" stroke-width="0.2">0.85500</text>
<rect x="668.6" y="324.8" width="38.4" height="20.8" rx="1" fill="#f23645"/>
<text x="673.90" y="333.80" font-size="8.5" font-family="Liberation Sans, sans-serif" fill="#ffffff" text-anchor="start" font-weight="normal" textLength="26.80" lengthAdjust="spacingAndGlyphs" stroke="#ffffff" stroke-width="0.2">0.89325</text>
<text x="673.90" y="343.50" font-size="8.5" font-family="Liberation Sans, sans-serif" fill="#ffffff" text-anchor="start" font-weight="normal" textLength="29.60" lengthAdjust="spacingAndGlyphs" stroke="#ffffff" stroke-width="0.2">11:28:30</text>
<rect x="668.6" y="556.4" width="36" height="11.3" rx="1" fill="#ef5350"/>
<text x="673.90" y="565.10" font-size="8.5" font-family="Liberation Sans, sans-serif" fill="#ffffff" text-anchor="start" font-weight="normal" textLength="27.60" lengthAdjust="spacingAndGlyphs" stroke="#ffffff" stroke-width="0.2">59.393K</text>
<text x="-5.80" y="593.00" font-size="8.2" font-family="Liberation Sans, sans-serif" fill="#131722" text-anchor="start" font-weight="normal" textLength="13.20" lengthAdjust="spacingAndGlyphs" stroke="#131722" stroke-width="0.4">Feb</text>
<text x="72.22" y="593.00" font-size="8.2" font-family="Liberation Sans, sans-serif" fill="#131722" text-anchor="start" font-weight="normal" textLength="13.00" lengthAdjust="spacingAndGlyphs" stroke="#131722" stroke-width="0.4">Mar</text>
<text x="162.28" y="593.00" font-size="8.2" font-family="Liberation Sans, sans-serif" fill="#131722" text-anchor="start" font-weight="normal" textLength="12.10" lengthAdjust="spacingAndGlyphs" stroke="#131722" stroke-width="0.4">Apr</text>
<text x="239.25" y="593.00" font-size="8.2" font-family="Liberation Sans, sans-serif" fill="#131722" text-anchor="start" font-weight="normal" textLength="14.00" lengthAdjust="spacingAndGlyphs" stroke="#131722" stroke-width="0.4">May</text>
<text x="329.56" y="593.00" font-size="8.2" font-family="Liberation Sans, sans-serif" fill="#131722" text-anchor="start" font-weight="normal" textLength="12.60" lengthAdjust="spacingAndGlyphs" stroke="#131722" stroke-width="0.4">Jun</text>
<text x="416.77" y="593.00" font-size="8.2" font-family="Liberation Sans, sans-serif" fill="#131722" text-anchor="start" font-weight="normal" textLength="9.60" lengthAdjust="spacingAndGlyphs" stroke="#131722" stroke-width="0.4">Jul</text>
<text x="496.58" y="593.00" font-size="8.2" font-family="Liberation Sans, sans-serif" fill="#131722" text-anchor="start" font-weight="normal" textLength="13.60" lengthAdjust="spacingAndGlyphs" stroke="#131722" stroke-width="0.4">Aug</text>
<text x="586.39" y="593.00" font-size="8.2" font-family="Liberation Sans, sans-serif" fill="#131722" text-anchor="start" font-weight="normal" textLength="13.20" lengthAdjust="spacingAndGlyphs" stroke="#131722" stroke-width="0.4">Sep</text>
<text x="651.38" y="593.00" font-size="8.2" font-family="Liberation Sans, sans-serif" fill="#131722" text-anchor="start" font-weight="normal" textLength="7.90" lengthAdjust="spacingAndGlyphs" stroke="#131722" stroke-width="0.4">25</text>
<polygon points="694.50,590.90 692.15,594.97 687.45,594.97 685.10,590.90 687.45,586.83 692.15,586.83" fill="none" stroke="#131722" stroke-width="0.85" stroke-linejoin="round"/>
<circle cx="689.8" cy="590.9" r="1.3" fill="none" stroke="#131722" stroke-width="0.8"/>
<g>
<clipPath id="usc"><circle cx="9.5" cy="13.1" r="3.9"/></clipPath>
<g clip-path="url(#usc)"><rect x="5" y="9" width="9" height="9" fill="#ffffff"/><rect x="5" y="9.8" width="9" height="1.0" fill="#ee5a5c"/><rect x="5" y="11.7" width="9" height="1.0" fill="#ee5a5c"/><rect x="5" y="14.1" width="9" height="2.5" fill="#ec4f55"/><rect x="5" y="9" width="5.2" height="4.5" fill="#4f8ff0"/></g>
<circle cx="14.4" cy="8.5" r="4.5" fill="#ffffff"/>
<circle cx="14.4" cy="8.5" r="3.7" fill="#ea4450"/>
<rect x="13.75" y="6.2" width="1.3" height="4.6" fill="#ffffff"/>
<rect x="12.1" y="7.85" width="4.6" height="1.3" fill="#ffffff"/>
</g>
<text x="20.40" y="14.65" font-size="10.7" font-family="Liberation Sans, sans-serif" fill="#131722" text-anchor="start" font-weight="normal" textLength="18.20" lengthAdjust="spacingAndGlyphs" stroke="#131722" stroke-width="0.2">U.S.</text>
<text x="43.00" y="14.65" font-size="10.7" font-family="Liberation Sans, sans-serif" fill="#131722" text-anchor="start" font-weight="normal" textLength="26.00" lengthAdjust="spacingAndGlyphs" stroke="#131722" stroke-width="0.2">Dollar</text>
<text x="74.80" y="14.65" font-size="10.7" font-family="Liberation Sans, sans-serif" fill="#131722" text-anchor="start" font-weight="normal" textLength="3.80" lengthAdjust="spacingAndGlyphs" stroke="#131722" stroke-width="0.2">/</text>
<text x="81.90" y="14.65" font-size="10.7" font-family="Liberation Sans, sans-serif" fill="#131722" text-anchor="start" font-weight="normal" textLength="23.10" lengthAdjust="spacingAndGlyphs" stroke="#131722" stroke-width="0.2">Swiss</text>
<text x="109.90" y="14.65" font-size="10.7" font-family="Liberation Sans, sans-serif" fill="#131722" text-anchor="start" font-weight="normal" textLength="24.30" lengthAdjust="spacingAndGlyphs" stroke="#131722" stroke-width="0.2">Franc</text>
<text x="143.70" y="14.65" font-size="10.7" font-family="Liberation Sans, sans-serif" fill="#131722" text-anchor="start" font-weight="normal" textLength="9.80" lengthAdjust="spacingAndGlyphs" stroke="#131722" stroke-width="0.2">1D</text>
<text x="163.00" y="14.65" font-size="10.7" font-family="Liberation Sans, sans-serif" fill="#131722" text-anchor="start" font-weight="normal" textLength="24.20" lengthAdjust="spacingAndGlyphs" stroke="#131722" stroke-width="0.2">FXCM</text>
<circle cx="138.0" cy="10.9" r="0.8" fill="#131722"/>
<circle cx="158.0" cy="10.9" r="0.8" fill="#131722"/>
<clipPath id="pill"><rect x="196.9" y="5" width="25.6" height="11.8" rx="5.9"/></clipPath>
<g clip-path="url(#pill)"><rect x="196" y="4" width="14.3" height="14" fill="#d5ede8"/><rect x="210.3" y="4" width="14" height="14" fill="#fbd5e0"/></g>
<circle cx="203.7" cy="10.9" r="2.2" fill="#089981"/>
<path d="M213.5 10.0 q1.35 -0.9 2.7 0 t2.7 0 M213.5 12.5 q1.35 -0.9 2.7 0 t2.7 0" fill="none" stroke="#d81b60" stroke-width="1.15"/>
<text x="233.00" y="14.20" font-size="8.3" font-family="Liberation Sans, sans-serif" fill="#131722" text-anchor="start" font-weight="normal" textLength="5.60" lengthAdjust="spacingAndGlyphs">O</text>
<text x="239.10" y="14.20" font-size="8.3" font-family="Liberation Sans, sans-serif" fill="#f23645" text-anchor="start" font-weight="normal" textLength="29.50" lengthAdjust="spacingAndGlyphs">0.89360</text>
<text x="273.60" y="14.20" font-size="8.3" font-family="Liberation Sans, sans-serif" fill="#131722" text-anchor="start" font-weight="normal" textLength="5.40" lengthAdjust="spacingAndGlyphs">H</text>
<text x="279.40" y="14.20" font-size="8.3" font-family="Liberation Sans, sans-serif" fill="#f23645" text-anchor="start" font-weight="normal" textLength="29.50" lengthAdjust="spacingAndGlyphs">0.89389</text>
<text x="312.90" y="14.20" font-size="8.3" font-family="Liberation Sans, sans-serif" fill="#131722" text-anchor="start" font-weight="normal" textLength="4.30" lengthAdjust="spacingAndGlyphs">L</text>
<text x="317.70" y="14.20" font-size="8.3" font-family="Liberation Sans, sans-serif" fill="#f23645" text-anchor="start" font-weight="normal" textLength="29.20" lengthAdjust="spacingAndGlyphs">0.89143</text>
<text x="351.20" y="14.20" font-size="8.3" font-family="Liberation Sans, sans-serif" fill="#131722" text-anchor="start" font-weight="normal" textLength="5.10" lengthAdjust="spacingAndGlyphs">C</text>
<text x="356.80" y="14.20" font-size="8.3" font-family="Liberation Sans, sans-serif" fill="#f23645" text-anchor="start" font-weight="normal" textLength="29.20" lengthAdjust="spacingAndGlyphs">0.89325</text>
<text x="390.60" y="14.20" font-size="8.3" font-family="Liberation Sans, sans-serif" fill="#f23645" text-anchor="start" font-weight="normal" textLength="34.00" lengthAdjust="spacingAndGlyphs">−0.00035</text>
<text x="428.00" y="14.20" font-size="8.3" font-family="Liberation Sans, sans-serif" fill="#f23645" text-anchor="start" font-weight="normal" textLength="30.20" lengthAdjust="spacingAndGlyphs">(−0.04%)</text>
<rect x="5.8" y="22.6" width="38.6" height="15.2" rx="2" fill="#ffffff" stroke="#f5626e" stroke-width="0.8"/>
<text x="10.20" y="33.40" font-size="8.4" font-family="Liberation Sans, sans-serif" fill="#f23645" text-anchor="start" font-weight="normal" textLength="25.20" lengthAdjust="spacingAndGlyphs">0.8932</text>
<text x="36.00" y="31.40" font-size="6.8" font-family="Liberation Sans, sans-serif" fill="#f23645" text-anchor="start" font-weight="normal" textLength="3.30" lengthAdjust="spacingAndGlyphs">5</text>
<text x="49.80" y="33.20" font-size="8.3" font-family="Liberation Sans, sans-serif" fill="#131722" text-anchor="start" font-weight="normal" textLength="10.20" lengthAdjust="spacingAndGlyphs">0.5</text>
<rect x="65.2" y="22.6" width="38.7" height="15.2" rx="2" fill="#ffffff" stroke="#5b85ff" stroke-width="0.8"/>
<text x="69.90" y="33.40" font-size="8.4" font-family="Liberation Sans, sans-serif" fill="#2962ff" text-anchor="start" font-weight="normal" textLength="25.40" lengthAdjust="spacingAndGlyphs">0.8933</text>
<text x="95.80" y="31.40" font-size="6.8" font-family="Liberation Sans, sans-serif" fill="#2962ff" text-anchor="start" font-weight="normal" textLength="3.40" lengthAdjust="spacingAndGlyphs">0</text>
<text x="6.10" y="52.80" font-size="8.3" font-family="Liberation Sans, sans-serif" fill="#131722" text-anchor="start" font-weight="normal" textLength="10.80" lengthAdjust="spacingAndGlyphs">Vol</text>
<text x="22.90" y="52.80" font-size="8.3" font-family="Liberation Sans, sans-serif" fill="#ef5350" text-anchor="start" font-weight="normal" textLength="29.80" lengthAdjust="spacingAndGlyphs">59.393K</text>
<rect x="6.5" y="59.9" width="18.2" height="12.9" rx="1.6" fill="#ffffff" stroke="#e6e8ee" stroke-width="0.8"/>
<path d="M12.9 67.3 L15.25 65.1 L17.6 67.3" fill="none" stroke="#131722" stroke-width="1.15" stroke-linecap="round" stroke-linejoin="round"/>
<circle cx="627.8" cy="555.1" r="6.1" fill="#ffffff" stroke="#9c27b0" stroke-width="1.05"/>
<path d="M629.5 550.7 L625.1 555.9 L627.6 555.9 L626.1 559.7 L630.5 554.4 L628.0 554.4 Z" fill="#9c27b0"/>
<circle cx="639.9" cy="572.2" r="6.7" fill="#ffffff" stroke="#ef5350" stroke-width="0.95"/>
<clipPath id="f3"><circle cx="639.9" cy="572.2" r="4.800000000000001"/></clipPath>
<g clip-path="url(#f3)"><rect x="633.9" y="566.2" width="12" height="12" fill="#ffffff"/><rect x="633.9" y="568.6" width="12" height="1.1" fill="#ef5350"/><rect x="633.9" y="570.9000000000001" width="12" height="1.2" fill="#ef5350"/><rect x="633.9" y="575.1" width="12" height="2.2" fill="#ef5350"/><rect x="633.9" y="566.2" width="6.6" height="7.0" fill="#4a86e8"/><g fill="#cfe0fb"><circle cx="636.3" cy="569.0" r="0.45"/><circle cx="638.1" cy="569.0" r="0.45"/><circle cx="636.3" cy="570.8000000000001" r="0.45"/><circle cx="638.1" cy="570.8000000000001" r="0.45"/><circle cx="639.5" cy="572.0" r="0.4"/><circle cx="637.1999999999999" cy="572.0" r="0.4"/></g></g>
<circle cx="631.7" cy="572.2" r="7.5" fill="#ffffff" stroke="#ef5350" stroke-width="0.95"/>
<clipPath id="f2"><circle cx="631.7" cy="572.2" r="5.6"/></clipPath>
<g clip-path="url(#f2)"><rect x="625.7" y="566.2" width="12" height="12" fill="#ffffff"/><rect x="625.7" y="568.6" width="12" height="1.1" fill="#ef5350"/><rect x="625.7" y="570.9000000000001" width="12" height="1.2" fill="#ef5350"/><rect x="625.7" y="575.1" width="12" height="2.2" fill="#ef5350"/><rect x="625.7" y="566.2" width="6.6" height="7.0" fill="#4a86e8"/><g fill="#cfe0fb"><circle cx="628.1" cy="569.0" r="0.45"/><circle cx="629.9000000000001" cy="569.0" r="0.45"/><circle cx="628.1" cy="570.8000000000001" r="0.45"/><circle cx="629.9000000000001" cy="570.8000000000001" r="0.45"/><circle cx="631.3000000000001" cy="572.0" r="0.4"/><circle cx="629.0" cy="572.0" r="0.4"/></g></g>
<circle cx="627.8" cy="572.2" r="7.5" fill="#ffffff" stroke="#ef5350" stroke-width="0.95"/>
<clipPath id="f1"><circle cx="627.8" cy="572.2" r="5.6"/></clipPath>
<g clip-path="url(#f1)"><rect x="621.8" y="566.2" width="12" height="12" fill="#ffffff"/><rect x="621.8" y="568.6" width="12" height="1.1" fill="#ef5350"/><rect x="621.8" y="570.9000000000001" width="12" height="1.2" fill="#ef5350"/><rect x="621.8" y="575.1" width="12" height="2.2" fill="#ef5350"/><rect x="621.8" y="566.2" width="6.6" height="7.0" fill="#4a86e8"/><g fill="#cfe0fb"><circle cx="624.1999999999999" cy="569.0" r="0.45"/><circle cx="626.0" cy="569.0" r="0.45"/><circle cx="624.1999999999999" cy="570.8000000000001" r="0.45"/><circle cx="626.0" cy="570.8000000000001" r="0.45"/><circle cx="627.4" cy="572.0" r="0.4"/><circle cx="625.0999999999999" cy="572.0" r="0.4"/></g></g>
<g transform="translate(7.6,558.8) scale(0.548,0.56)" stroke="#ffffff" stroke-width="6" stroke-linejoin="round" paint-order="stroke" fill="#131722"><path d="M14 22H7V11H0V4h14v18z"/><circle cx="20" cy="8" r="4"/><path d="M28 22h-8l7.5-18h8L28 22z"/></g>
<g transform="translate(7.6,558.8) scale(0.548,0.56)" fill="#131722"><path d="M14 22H7V11H0V4h14v18z"/><circle cx="20" cy="8" r="4"/><path d="M28 22h-8l7.5-18h8L28 22z"/></g>
<text x="32.7" y="570.7" font-size="13.5" font-family="Liberation Sans, sans-serif" fill="#ffffff" textLength="77.3" lengthAdjust="spacingAndGlyphs" stroke="#ffffff" stroke-width="4.2" stroke-linejoin="round">TradingView</text>
<text x="32.7" y="570.7" font-size="13.5" font-family="Liberation Sans, sans-serif" fill="#131722" textLength="77.3" lengthAdjust="spacingAndGlyphs" stroke="#131722" stroke-width="0.8" stroke-linejoin="round">TradingView</text>
</svg>
</body>
</html>
